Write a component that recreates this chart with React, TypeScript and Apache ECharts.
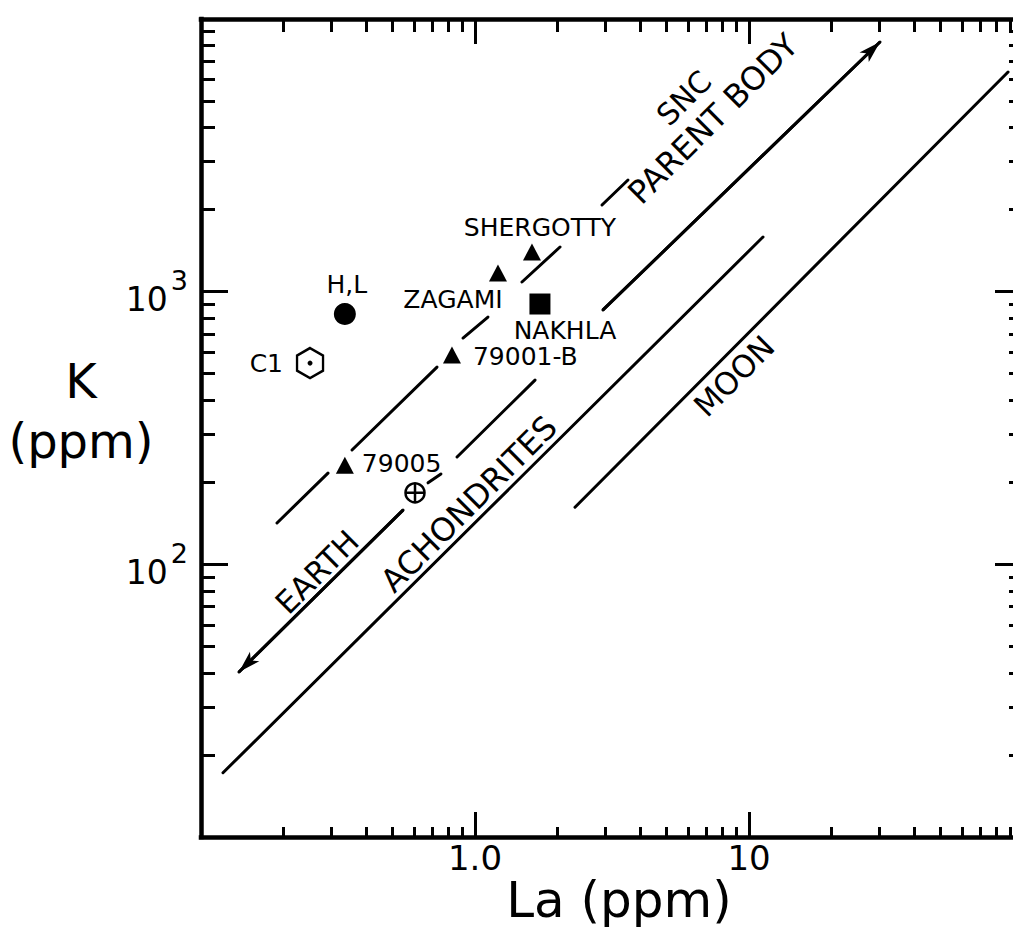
import React, { useEffect, useRef } from 'react';
import * as echarts from 'echarts';

const FONT = "'DejaVu Sans', sans-serif";

// Axis ranges and ticks
const X_MIN = 0.1;
const X_MAX = 100;
const Y_MIN = 10;
const Y_MAX = 10000;
const X_MAJOR = [1, 10];
const X_MAJOR_LABELS = ['1.0', '10'];
const X_MINOR = [0.2, 0.3, 0.4, 0.5, 0.6, 0.7, 0.8, 0.9, 2, 3, 4, 5, 6, 7, 8, 9, 20, 30, 40, 50, 60, 70, 80, 90];
const Y_MAJOR = [100, 1000];
const Y_MAJOR_EXP = ['2', '3'];
const Y_MINOR = [20, 30, 40, 50, 60, 70, 80, 90, 200, 300, 400, 500, 600, 700, 800, 900, 2000, 3000, 4000, 5000, 6000, 7000, 8000, 9000];

// Samples: [La ppm, K ppm]
const HL: [number, number] = [0.335, 828];
const C1: [number, number] = [0.25, 547];
const SNC_NAMES = ['SHERGOTTY', 'ZAGAMI', '79001-B', '79005'];
const SNC_LA = [1.614, 1.213, 0.824, 0.335];
const SNC_K = [1398, 1171, 586, 231];
const NAKHLA: [number, number] = [1.726, 901];
const EARTH: [number, number] = [0.604, 183];

// Trend lines (segments of [La, K])
const SNC_TREND: [number, number][][] = [
  [[0.1894, 141.8], [0.2907, 216]],
  [[0.3557, 262.6], [0.7267, 529]],
  [[0.904, 676], [1.115, 807]],
  [[1.484, 1085], [2.043, 1458]],
  [[2.907, 2079], [3.617, 2568]],
];
const EARTH_TREND: [number, number][][] = [
  [[0.1376, 40.3], [0.546, 158]],
  [[0.674, 199], [0.751, 214.5]],
  [[0.86, 247.5], [1.656, 474]],
  [[2.932, 857], [30.06, 8234]],
];
const ACHONDRITE_LINE: [number, number][] = [[0.1203, 17.2], [11.25, 1587]];
const MOON_LINE: [number, number][] = [[2.317, 162], [88.2, 6392]];

const near = (a: number, b: number) => Math.abs(a - b) < 1e-6 * Math.max(1, Math.abs(b));

const fmtX = (v: number) => {
  const i = X_MAJOR.findIndex((m) => near(v, m));
  return i >= 0 ? X_MAJOR_LABELS[i] : '';
};
const fmtY = (v: number) => {
  const i = Y_MAJOR.findIndex((m) => near(v, m));
  return i >= 0 ? `{b|10}{s|${Y_MAJOR_EXP[i]}}` : '';
};

const black = '#000';

function xAxis(position: 'bottom' | 'top', major: boolean, len: number, extra: any = {}) {
  return {
    type: 'log',
    logBase: 10,
    min: X_MIN,
    max: X_MAX,
    gridIndex: 0,
    position,
    axisLine: { show: major, onZero: false, lineStyle: { color: black, width: 4.5, cap: 'square' } },
    axisTick: { show: true, inside: true, length: len, customValues: major ? X_MAJOR : X_MINOR, lineStyle: { color: black, width: 3 } },
    axisLabel: { show: false },
    splitLine: { show: false },
    minorTick: { show: false },
    minorSplitLine: { show: false },
    ...extra,
  };
}
function yAxis(position: 'left' | 'right', major: boolean, len: number, extra: any = {}) {
  return {
    type: 'log',
    logBase: 10,
    min: Y_MIN,
    max: Y_MAX,
    gridIndex: 0,
    position,
    axisLine: { show: major, onZero: false, lineStyle: { color: black, width: 4.5, cap: 'square' } },
    axisTick: { show: true, inside: true, length: len, customValues: major ? Y_MAJOR : Y_MINOR, lineStyle: { color: black, width: 3 } },
    axisLabel: { show: false },
    splitLine: { show: false },
    minorTick: { show: false },
    minorSplitLine: { show: false },
    ...extra,
  };
}

const lineSeries = (name: string, data: [number, number][]) => ({
  type: 'line',
  name,
  data,
  symbol: 'none',
  silent: true,
  z: 2,
  lineStyle: { color: black, width: 3, cap: 'round', opacity: 1 },
});

const labelBase = { show: true, position: 'inside', color: black, fontSize: 25, fontFamily: FONT, formatter: '{b}', opacity: 1 };

const SNC_LABEL_STYLE: any[] = [
  { offset: [8, -24] },
  { offset: [-45, 27] },
  { offset: [21, 2], align: 'left' },
  { offset: [17, -2], align: 'left' },
];

const HEX = 'path://M10,0 L18.66,5 L18.66,15 L10,20 L1.34,15 L1.34,5 Z';
const CROSS = 'path://M10,0 L10,20 M0,10 L20,10';

const rotText = (text: string, x: number, y: number, size = 31) => ({
  type: 'text',
  x,
  y,
  rotation: Math.PI / 4,
  z: 10,
  style: { text, fill: black, fontSize: size, fontFamily: FONT, align: 'center', verticalAlign: 'middle' },
});

const option: any = {
  animation: false,
  backgroundColor: '#fff',
  grid: { left: 201, top: 19, width: 822, height: 818, containLabel: false, outerBoundsMode: 'none' },
  xAxis: [
    xAxis('bottom', true, 25, {
      axisLabel: { show: true, customValues: X_MAJOR, formatter: fmtX, color: black, fontSize: 34, fontFamily: FONT, margin: 4 },
      name: 'La (ppm)',
      nameLocation: 'middle',
      nameGap: 63,
      nameMoveOverlap: false,
      nameTextStyle: { color: black, fontSize: 50, fontFamily: FONT, verticalAlign: 'middle', padding: [0, 0, 0, 14] },
    }),
    xAxis('bottom', false, 10),
    xAxis('top', true, 25),
    xAxis('top', false, 13),
  ],
  yAxis: [
    yAxis('left', true, 27, {
      axisLabel: {
        show: true,
        customValues: Y_MAJOR,
        formatter: fmtY,
        color: black,
        margin: 13,
        rich: {
          b: { fontSize: 33, fontFamily: FONT, color: black, padding: [16, 0, 0, 0], verticalAlign: 'middle' },
          s: { fontSize: 27, fontFamily: FONT, color: black, padding: [0, 0, 22, 3], verticalAlign: 'middle' },
        },
      },
    }),
    yAxis('left', false, 14),
    yAxis('right', true, 28),
    yAxis('right', false, 14),
  ],
  series: [
    ...SNC_TREND.map((seg, i) => lineSeries(`SNC trend ${i + 1}`, seg)),
    ...EARTH_TREND.map((seg, i) => lineSeries(`Earth trend ${i + 1}`, seg)),
    lineSeries('Achondrites', ACHONDRITE_LINE),
    lineSeries('Moon', MOON_LINE),
    {
      type: 'line',
      name: 'Earth arrows',
      data: [],
      symbol: 'none',
      silent: true,
      markLine: {
        silent: true,
        animation: false,
        symbolSize: [10, 22],
        lineStyle: { color: black, width: 3, type: 'solid', opacity: 1 },
        label: { show: false },
        emphasis: { disabled: true },
        data: [
          [
            { coord: EARTH_TREND[0][0], symbol: 'arrow' },
            { coord: EARTH_TREND[0][1], symbol: 'none' },
          ],
          [
            { coord: EARTH_TREND[3][0], symbol: 'none' },
            { coord: EARTH_TREND[3][1], symbol: 'arrow' },
          ],
        ],
      },
    },
    {
      type: 'scatter',
      name: 'H,L chondrites',
      z: 5,
      data: [{ name: 'H,L', value: HL, label: { offset: [2, -30] } }],
      symbol: 'circle',
      symbolSize: 22,
      itemStyle: { color: black, opacity: 1 },
      label: labelBase,
    },
    {
      type: 'scatter',
      name: 'C1 chondrites',
      z: 5,
      data: [{ name: 'C1', value: C1, label: { offset: [-27, 0], align: 'right' } }],
      symbol: HEX,
      symbolSize: [26, 30],
      itemStyle: { color: '#fff', borderColor: black, borderWidth: 2.5, opacity: 1 },
      label: labelBase,
    },
    {
      type: 'scatter',
      name: 'C1 dot',
      z: 6,
      data: [C1],
      symbol: 'circle',
      symbolSize: 5,
      itemStyle: { color: black, opacity: 1 },
    },
    {
      type: 'scatter',
      name: 'SNC',
      z: 5,
      data: SNC_NAMES.map((n, i) => ({ name: n, value: [SNC_LA[i], SNC_K[i]], label: SNC_LABEL_STYLE[i] })),
      symbol: 'triangle',
      symbolSize: [18, 17],
      itemStyle: { color: black, opacity: 1 },
      label: labelBase,
    },
    {
      type: 'scatter',
      name: 'Nakhla',
      z: 5,
      data: [{ name: 'NAKHLA', value: NAKHLA, label: { offset: [25, 26] } }],
      symbol: 'rect',
      symbolSize: 21,
      itemStyle: { color: black, opacity: 1 },
      label: labelBase,
    },
    {
      type: 'scatter',
      name: 'Earth',
      z: 5,
      data: [EARTH],
      symbol: 'circle',
      symbolSize: 19,
      itemStyle: { color: '#fff', borderColor: black, borderWidth: 2.5, opacity: 1 },
    },
    {
      type: 'scatter',
      name: 'Earth cross',
      z: 6,
      data: [EARTH],
      symbol: CROSS,
      symbolSize: 18,
      itemStyle: { color: 'none', borderColor: black, borderWidth: 2.5, opacity: 1 },
    },
  ],
  graphic: [
    {
      type: 'text',
      x: 81,
      y: 411,
      z: 10,
      style: { text: 'K\n(ppm)', fill: black, fontSize: 48, fontFamily: FONT, lineHeight: 60, align: 'center', verticalAlign: 'middle' },
    },
    rotText('SNC', 684, 98, 30),
    rotText('PARENT BODY', 713, 119, 32),
    rotText('EARTH', 317, 572),
    rotText('ACHONDRITES', 469, 504, 32),
    rotText('MOON', 734, 376),
  ],
};

export default function App() {
  const ref = useRef<HTMLDivElement>(null);
  useEffect(() => {
    if (!ref.current) return;
    const chart = echarts.init(ref.current, null, { renderer: 'svg' });
    chart.setOption(option);
    return () => chart.dispose();
  }, []);
  return (
    <div style={{ position: 'fixed', left: 0, top: 0, width: 1013, height: 928, overflow: 'hidden', background: '#fff' }}>
      <div ref={ref} style={{ width: 1040, height: 928 }} />
    </div>
  );
}
